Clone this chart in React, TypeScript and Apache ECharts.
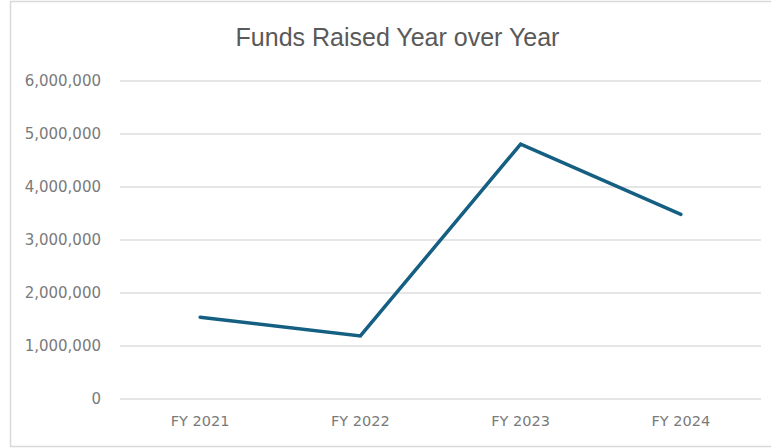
import React, { useEffect, useRef } from "react";
import * as echarts from "echarts";

const categories = ["FY 2021", "FY 2022", "FY 2023", "FY 2024"];
const fundsRaised = [1535000, 1180000, 4800000, 3475000];
const titleText = "Funds Raised Year over Year";

export default function App() {
  const ref = useRef<HTMLDivElement>(null);
  useEffect(() => {
    if (!ref.current) return;
    const chart = echarts.init(ref.current, null, { renderer: "svg" });
    chart.setOption({
      animation: false,
      backgroundColor: "#ffffff",
      graphic: [
        {
          type: "rect",
          shape: { x: 10.5, y: 1.5, width: 775, height: 445 },
          style: { fill: "none", stroke: "#d9d9d9", lineWidth: 1.5 },
          silent: true,
        },
        {
          type: "text",
          x: 397.5,
          y: 37,
          style: {
            text: titleText,
            fontFamily: "Liberation Sans",
            fontSize: 25,
            fill: "#595959",
            align: "center",
            verticalAlign: "middle",
          },
        },
      ],
      grid: { left: 120, right: 10, top: 80.5, bottom: 49.5 },
      xAxis: {
        type: "category",
        data: categories,
        boundaryGap: true,
        axisLine: { show: false },
        axisTick: { show: false },
        axisLabel: {
          margin: 15,
          color: "#7a7a7a",
          fontFamily: "DejaVu Sans",
          fontSize: 14.5,
        },
      },
      yAxis: {
        type: "value",
        min: 0,
        max: 6000000,
        interval: 1000000,
        axisLine: { show: false },
        axisTick: { show: false },
        splitLine: { lineStyle: { color: "#dedede", width: 1.5 } },
        axisLabel: {
          margin: 19,
          color: "#7a7a7a",
          fontFamily: "DejaVu Sans",
          fontSize: 15,
          formatter: (v: number) => v.toLocaleString("en-US"),
        },
      },
      series: [
        {
          type: "line",
          data: fundsRaised,
          showSymbol: false,
          symbol: "none",
          lineStyle: { color: "#156082", width: 3.5, cap: "round", join: "miter" },
          itemStyle: { color: "#156082" },
        },
      ],
    });
    return () => chart.dispose();
  }, []);
  return (
    <div
      ref={ref}
      style={{ position: "fixed", left: 0, top: 0, width: 771, height: 448, background: "#fff" }}
    />
  );
}
